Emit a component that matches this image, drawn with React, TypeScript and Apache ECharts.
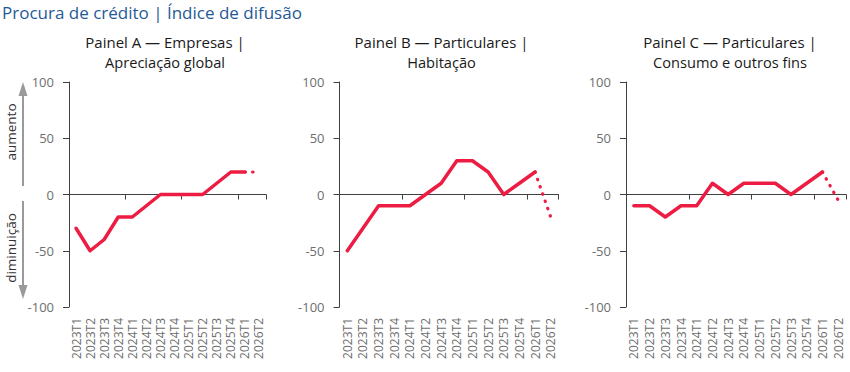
import React, { useEffect, useRef } from "react";
import * as echarts from "echarts";

const categories = [
  "2023T1", "2023T2", "2023T3", "2023T4",
  "2024T1", "2024T2", "2024T3", "2024T4",
  "2025T1", "2025T2", "2025T3", "2025T4",
  "2026T1", "2026T2",
];

// observed values up to 2026T1, then the expectation for 2026T2 (dotted)
const empresasGlobal = [-30, -50, -40, -20, -20, -10, 0, 0, 0, 0, 10, 20, 20];
const empresasProj = 20;
const habitacao = [-50, -30, -10, -10, -10, 0, 10, 30, 30, 20, 0, 10, 20];
const habitacaoProj = -20;
const consumo = [-10, -10, -20, -10, -10, 10, 0, 10, 10, 10, 0, 10, 20];
const consumoProj = -5;

const yTicks = [-100, -50, 0, 50, 100];

const panelTitles = [
  ["Painel A — Empresas |", "Apreciação global"],
  ["Painel B — Particulares |", "Habitação"],
  ["Painel C — Particulares |", "Consumo e outros fins"],
];

const FONT = "'Open Sans', 'Noto Sans', sans-serif";
const RED = "#ec1c43";
const AXIS = "#404040";
const LABEL = "#6e6e6e";

export default function App() {
  const ref = useRef<HTMLDivElement>(null);

  useEffect(() => {
    if (!ref.current) return;
    const chart = echarts.init(ref.current, null, { renderer: "svg" });

    const grids = [
      { left: 69, top: 82, width: 197, height: 225 },
      { left: 339.5, top: 82, width: 219, height: 225 },
      { left: 626, top: 82, width: 220, height: 225 },
    ];
    const panels = [
      { solid: empresasGlobal, proj: empresasProj },
      { solid: habitacao, proj: habitacaoProj },
      { solid: consumo, proj: consumoProj },
    ];
    const titleCenters = [165, 441.5, 730];

    const xAxis: any[] = [];
    const yAxis: any[] = [];
    const series: any[] = [];

    grids.forEach((g, i) => {
      xAxis.push({
        type: "category",
        gridIndex: i,
        data: categories,
        position: "bottom",
        boundaryGap: true,
        axisLine: { show: true, onZero: true, lineStyle: { color: AXIS, width: 1 } },
        axisTick: { show: true, length: 5, inside: false, lineStyle: { color: AXIS } },
        axisLabel: { show: false },
        splitLine: { show: false },
      });
      xAxis.push({
        type: "category",
        gridIndex: i,
        data: categories,
        position: "bottom",
        boundaryGap: true,
        axisLine: { show: false, onZero: false },
        axisTick: { show: false },
        axisLabel: {
          show: true,
          rotate: 90,
          interval: 0,
          margin: 11,
          color: LABEL,
          fontSize: 12,
          fontFamily: FONT,
        },
        splitLine: { show: false },
      });
      yAxis.push({
        type: "value",
        gridIndex: i,
        min: yTicks[0],
        max: yTicks[yTicks.length - 1],
        interval: 50,
        axisLine: { show: true, lineStyle: { color: AXIS, width: 1 } },
        axisTick: { show: true, length: 6, lineStyle: { color: AXIS } },
        axisLabel: { color: LABEL, fontSize: 13, fontFamily: FONT, margin: 15 },
        splitLine: { show: false },
      });

      const p = panels[i];
      const solidData = [...p.solid, null];
      const projData = categories.map((_, k) =>
        k === p.solid.length - 1 ? p.solid[k] : k === p.solid.length ? p.proj : null
      );
      series.push({
        type: "line",
        xAxisIndex: i * 2,
        yAxisIndex: i,
        data: solidData,
        symbol: "none",
        connectNulls: false,
        lineStyle: { color: RED, width: 3.5, join: "round", cap: "round" },
        z: 3,
      });
      series.push({
        type: "line",
        xAxisIndex: i * 2,
        yAxisIndex: i,
        data: projData,
        symbol: "none",
        connectNulls: false,
        lineStyle: { color: RED, width: 3.2, type: [0.5, 7.2], cap: "round" },
        z: 2,
      });
    });

    const graphic: any[] = [
      {
        type: "text",
        x: 2,
        y: 12,
        style: {
          text: "Procura de crédito | Índice de difusão",
          verticalAlign: "middle",
          fontSize: 17,
          fill: "#1f5a97",
          fontFamily: FONT,
        },
      },
    ];
    panelTitles.forEach((t, i) => {
      graphic.push({
        type: "text",
        x: titleCenters[i],
        y: 41.5,
        style: {
          text: t[0],
          align: "center",
          verticalAlign: "middle",
          fontSize: 15,
          fill: "#1a1a1a",
          fontFamily: FONT,
        },
      });
      graphic.push({
        type: "text",
        x: titleCenters[i],
        y: 61.5,
        style: {
          text: t[1],
          align: "center",
          verticalAlign: "middle",
          fontSize: 14.6,
          fill: "#1a1a1a",
          fontFamily: FONT,
        },
      });
    });
    const ARROW = "#9a9a9a";
    graphic.push(
      { type: "line", shape: { x1: 23, y1: 186, x2: 23, y2: 93 }, style: { stroke: ARROW, lineWidth: 2 } },
      { type: "polygon", shape: { points: [[23, 82], [18.5, 96], [27.5, 96]] }, style: { fill: ARROW } },
      { type: "line", shape: { x1: 23, y1: 201, x2: 23, y2: 288 }, style: { stroke: ARROW, lineWidth: 2 } },
      { type: "polygon", shape: { points: [[23, 299], [18.5, 285], [27.5, 285]] }, style: { fill: ARROW } },
      {
        type: "text",
        x: 10.5,
        y: 132,
        rotation: Math.PI / 2,
        style: {
          text: "aumento",
          align: "center",
          verticalAlign: "middle",
          fontSize: 13.5,
          fill: "#333333",
          fontFamily: FONT,
        },
      },
      {
        type: "text",
        x: 10.5,
        y: 248,
        rotation: Math.PI / 2,
        style: {
          text: "diminuição",
          align: "center",
          verticalAlign: "middle",
          fontSize: 13.5,
          fill: "#333333",
          fontFamily: FONT,
        },
      }
    );

    chart.setOption({
      animation: false,
      backgroundColor: "#ffffff",
      grid: grids.map((g) => ({ ...g, containLabel: false })),
      xAxis,
      yAxis,
      series,
      graphic,
    });

    return () => chart.dispose();
  }, []);

  return (
    <div
      ref={ref}
      style={{ position: "fixed", left: 0, top: 0, width: 850, height: 372 }}
    />
  );
}
